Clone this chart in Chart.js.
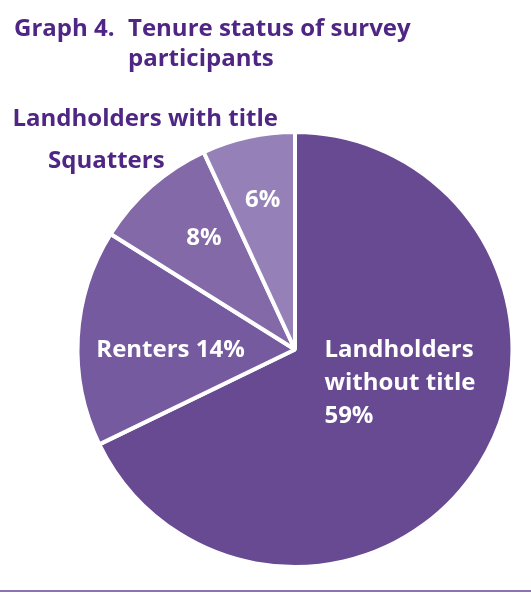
<!DOCTYPE html>
<html>
<head>
<meta charset="utf-8">
<script src="https://cdn.jsdelivr.net/npm/chart.js@4.4.1/dist/chart.umd.min.js"></script>
<style>
  body { margin: 0; background: #fff; }
  #wrap { position: relative; width: 531px; height: 593px; }
  #wrap canvas { position: absolute; left: 0; top: 0; }
  .title { position: absolute; margin: 0; color: #4f2683; font: 700 24px "Open Sans", sans-serif; line-height: 30px; }
  .rule { position: absolute; left: 0; top: 590px; width: 531px; height: 2px; background: #8a73b4; }
</style>
</head>
<body>
<div id="wrap">
  <canvas id="chart" width="531" height="593"></canvas>
  <div class="title" style="left:14px; top:12px;">Graph 4.</div>
  <div class="title" style="left:128px; top:12px;">Tenure status of survey<br>participants</div>
  <div class="rule"></div>
</div>
<script>
// values (they add up to 87, the pie is drawn in proportion)
const categories = ["Landholders without title", "Renters", "Squatters", "Landholders with title"];
const shares = [59, 14, 8, 6];
const sliceColors = ["#674a92", "#755a9f", "#8369a8", "#9581b8"];

// where each slice's text goes, in radius units from the pie centre
const labelSpots = [
  { inside: ["Landholders", "without title", "59%"], dx: 0.134, dy: 0.032, align: "left" },
  { inside: ["Renters 14%"], dx: -0.567, dy: 0.032, align: "center" },
  { inside: ["8%"], dx: -0.415, dy: -0.475, align: "center",
    outside: "Squatters", ox: -0.594, oy: -0.829 },
  { inside: ["6%"], dx: -0.147, dy: -0.650, align: "center",
    outside: "Landholders with title", ox: -0.078, oy: -1.018 }
];

const sliceText = {
  id: "sliceText",
  afterDatasetsDraw(chart) {
    const ctx = chart.ctx;
    const arcs = chart.getDatasetMeta(0).data;
    ctx.save();
    ctx.font = "700 24px 'Open Sans', sans-serif";
    ctx.textBaseline = "alphabetic";
    arcs.forEach((arc, i) => {
      const { x, y, outerRadius } = arc.getProps(["x", "y", "outerRadius"], true);
      const r = outerRadius + 2;
      const spot = labelSpots[i];
      ctx.fillStyle = "#ffffff";
      ctx.textAlign = spot.align;
      spot.inside.forEach((line, k) => {
        ctx.fillText(line, x + spot.dx * r, y + spot.dy * r + k * 33);
      });
      if (spot.outside) {
        ctx.fillStyle = "#4f2683";
        ctx.textAlign = "right";
        ctx.fillText(spot.outside, x + spot.ox * r, y + spot.oy * r);
      }
    });
    ctx.restore();
  }
};

new Chart(document.getElementById("chart"), {
  type: "pie",
  data: {
    labels: categories,
    datasets: [{
      data: shares,
      backgroundColor: sliceColors,
      borderColor: "#ffffff",
      borderWidth: 4
    }]
  },
  options: {
    responsive: false,
    animation: false,
    events: [],
    layout: { padding: { top: 130, bottom: 24, left: 75, right: 16 } },
    plugins: {
      legend: { display: false },
      tooltip: { enabled: false }
    }
  },
  plugins: [sliceText]
});
</script>
</body>
</html>
